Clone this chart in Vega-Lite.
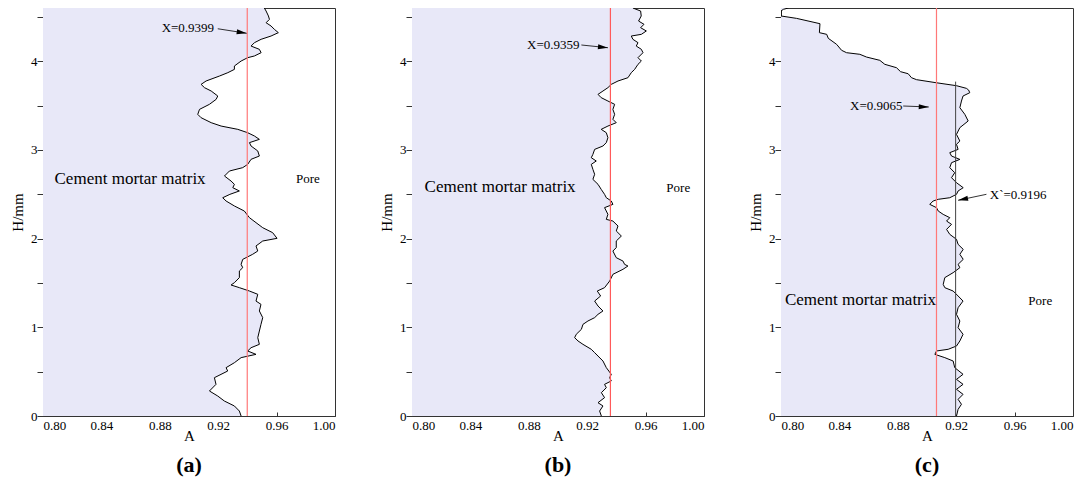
{
  "$schema": "https://vega.github.io/schema/vega-lite/v6.json",
  "padding": {"left": 10, "top": 6, "right": 0, "bottom": 0},
  "autosize": {"type": "pad"},
  "background": "white",
  "spacing": 77,
  "bounds": "flush",
  "config": {
    "font": "Times New Roman, Liberation Serif, DejaVu Serif, serif",
    "view": {"stroke": "#333333", "strokeWidth": 1},
    "text": {"font": "Times New Roman, Liberation Serif, DejaVu Serif, serif"},
    "axis": {"grid": false, "domainColor": "#333333", "tickColor": "#333333", "labelColor": "black", "titleColor": "black", "labelFont": "Times New Roman, Liberation Serif, DejaVu Serif, serif", "titleFont": "Times New Roman, Liberation Serif, DejaVu Serif, serif", "labelFontSize": 13, "titleFontSize": 15, "titleFontWeight": "normal"},
    "axisX": {"tickSize": -4, "labelPadding": 7, "titlePadding": -4},
    "axisY": {"tickSize": 6, "labelPadding": 0, "titlePadding": 5},
    "title": {"font": "Times New Roman, Liberation Serif, DejaVu Serif, serif", "fontSize": 22, "fontWeight": "bold", "orient": "bottom", "offset": 12, "color": "black"}
  },
  "datasets": {
    "a": [
      {"H": 4.6, "A": 0.9516}, {"H": 4.566, "A": 0.9528}, {"H": 4.51, "A": 0.9544}, {"H": 4.472, "A": 0.9551}, {"H": 4.434, "A": 0.9528}, {"H": 4.397, "A": 0.9562}, {"H": 4.359, "A": 0.9585}, {"H": 4.322, "A": 0.9612}, {"H": 4.284, "A": 0.9562}, {"H": 4.247, "A": 0.9494}, {"H": 4.209, "A": 0.9448}, {"H": 4.171, "A": 0.9425}, {"H": 4.134, "A": 0.9482}, {"H": 4.096, "A": 0.9494}, {"H": 4.059, "A": 0.9448}, {"H": 4.04, "A": 0.9402}, {"H": 4.002, "A": 0.9357}, {"H": 3.946, "A": 0.9311}, {"H": 3.908, "A": 0.9311}, {"H": 3.871, "A": 0.9266}, {"H": 3.833, "A": 0.9209}, {"H": 3.777, "A": 0.9117}, {"H": 3.739, "A": 0.9083}, {"H": 3.702, "A": 0.9106}, {"H": 3.664, "A": 0.9152}, {"H": 3.608, "A": 0.9197}, {"H": 3.57, "A": 0.9186}, {"H": 3.514, "A": 0.914}, {"H": 3.457, "A": 0.9072}, {"H": 3.401, "A": 0.906}, {"H": 3.363, "A": 0.9083}, {"H": 3.307, "A": 0.9152}, {"H": 3.269, "A": 0.922}, {"H": 3.232, "A": 0.9334}, {"H": 3.194, "A": 0.9402}, {"H": 3.157, "A": 0.9448}, {"H": 3.119, "A": 0.9482}, {"H": 3.082, "A": 0.9414}, {"H": 3.044, "A": 0.9425}, {"H": 2.988, "A": 0.9471}, {"H": 2.931, "A": 0.9482}, {"H": 2.894, "A": 0.9425}, {"H": 2.837, "A": 0.9402}, {"H": 2.8, "A": 0.9368}, {"H": 2.762, "A": 0.9277}, {"H": 2.706, "A": 0.9243}, {"H": 2.649, "A": 0.9288}, {"H": 2.612, "A": 0.9311}, {"H": 2.574, "A": 0.93}, {"H": 2.537, "A": 0.9345}, {"H": 2.499, "A": 0.928}, {"H": 2.461, "A": 0.9231}, {"H": 2.424, "A": 0.9254}, {"H": 2.368, "A": 0.9311}, {"H": 2.311, "A": 0.9379}, {"H": 2.236, "A": 0.9414}, {"H": 2.18, "A": 0.9459}, {"H": 2.123, "A": 0.9505}, {"H": 2.067, "A": 0.9573}, {"H": 2.003, "A": 0.9603}, {"H": 1.973, "A": 0.9505}, {"H": 1.917, "A": 0.9459}, {"H": 1.86, "A": 0.9471}, {"H": 1.823, "A": 0.9436}, {"H": 1.766, "A": 0.9368}, {"H": 1.71, "A": 0.9357}, {"H": 1.672, "A": 0.9368}, {"H": 1.635, "A": 0.9345}, {"H": 1.56, "A": 0.9345}, {"H": 1.503, "A": 0.9311}, {"H": 1.477, "A": 0.9288}, {"H": 1.447, "A": 0.9345}, {"H": 1.409, "A": 0.9414}, {"H": 1.372, "A": 0.9471}, {"H": 1.296, "A": 0.9459}, {"H": 1.259, "A": 0.9493}, {"H": 1.184, "A": 0.9482}, {"H": 1.109, "A": 0.9505}, {"H": 1.033, "A": 0.9493}, {"H": 0.958, "A": 0.9482}, {"H": 0.883, "A": 0.9471}, {"H": 0.808, "A": 0.9482}, {"H": 0.77, "A": 0.9425}, {"H": 0.733, "A": 0.9402}, {"H": 0.695, "A": 0.9459}, {"H": 0.658, "A": 0.9357}, {"H": 0.601, "A": 0.9311}, {"H": 0.545, "A": 0.9254}, {"H": 0.507, "A": 0.9265}, {"H": 0.432, "A": 0.9174}, {"H": 0.357, "A": 0.9185}, {"H": 0.282, "A": 0.914}, {"H": 0.225, "A": 0.9197}, {"H": 0.169, "A": 0.9242}, {"H": 0.113, "A": 0.9311}, {"H": 0.056, "A": 0.9345}, {"H": 0.0, "A": 0.9357}
    ],
    "b": [
      {"H": 4.6, "A": 0.9513}, {"H": 4.566, "A": 0.9566}, {"H": 4.51, "A": 0.957}, {"H": 4.453, "A": 0.9552}, {"H": 4.416, "A": 0.9589}, {"H": 4.378, "A": 0.9566}, {"H": 4.341, "A": 0.9605}, {"H": 4.303, "A": 0.9571}, {"H": 4.284, "A": 0.9502}, {"H": 4.247, "A": 0.9513}, {"H": 4.209, "A": 0.9548}, {"H": 4.171, "A": 0.9536}, {"H": 4.134, "A": 0.9571}, {"H": 4.096, "A": 0.9582}, {"H": 4.04, "A": 0.9548}, {"H": 4.002, "A": 0.9571}, {"H": 3.965, "A": 0.9548}, {"H": 3.908, "A": 0.9525}, {"H": 3.871, "A": 0.9502}, {"H": 3.814, "A": 0.9479}, {"H": 3.777, "A": 0.9411}, {"H": 3.739, "A": 0.9365}, {"H": 3.702, "A": 0.9342}, {"H": 3.664, "A": 0.9308}, {"H": 3.626, "A": 0.9274}, {"H": 3.589, "A": 0.9296}, {"H": 3.551, "A": 0.9342}, {"H": 3.514, "A": 0.9388}, {"H": 3.457, "A": 0.9376}, {"H": 3.401, "A": 0.9388}, {"H": 3.345, "A": 0.9376}, {"H": 3.307, "A": 0.9399}, {"H": 3.269, "A": 0.9342}, {"H": 3.232, "A": 0.9296}, {"H": 3.194, "A": 0.9331}, {"H": 3.138, "A": 0.9342}, {"H": 3.082, "A": 0.9331}, {"H": 3.044, "A": 0.9308}, {"H": 3.006, "A": 0.9251}, {"H": 2.95, "A": 0.9239}, {"H": 2.912, "A": 0.9228}, {"H": 2.875, "A": 0.9262}, {"H": 2.837, "A": 0.9228}, {"H": 2.781, "A": 0.9239}, {"H": 2.725, "A": 0.9251}, {"H": 2.668, "A": 0.9239}, {"H": 2.612, "A": 0.9274}, {"H": 2.555, "A": 0.9296}, {"H": 2.499, "A": 0.9319}, {"H": 2.461, "A": 0.9331}, {"H": 2.424, "A": 0.9365}, {"H": 2.386, "A": 0.9376}, {"H": 2.349, "A": 0.9319}, {"H": 2.274, "A": 0.9342}, {"H": 2.217, "A": 0.9331}, {"H": 2.198, "A": 0.9376}, {"H": 2.142, "A": 0.9411}, {"H": 2.086, "A": 0.9399}, {"H": 2.029, "A": 0.9434}, {"H": 1.973, "A": 0.9399}, {"H": 1.898, "A": 0.9399}, {"H": 1.86, "A": 0.9376}, {"H": 1.785, "A": 0.9399}, {"H": 1.747, "A": 0.9445}, {"H": 1.71, "A": 0.9456}, {"H": 1.691, "A": 0.9479}, {"H": 1.654, "A": 0.9445}, {"H": 1.597, "A": 0.9376}, {"H": 1.522, "A": 0.9354}, {"H": 1.447, "A": 0.9319}, {"H": 1.409, "A": 0.9269}, {"H": 1.353, "A": 0.9292}, {"H": 1.296, "A": 0.9251}, {"H": 1.24, "A": 0.9274}, {"H": 1.184, "A": 0.9308}, {"H": 1.146, "A": 0.9274}, {"H": 1.109, "A": 0.9251}, {"H": 1.071, "A": 0.9205}, {"H": 1.033, "A": 0.9171}, {"H": 0.977, "A": 0.916}, {"H": 0.921, "A": 0.9125}, {"H": 0.883, "A": 0.9114}, {"H": 0.846, "A": 0.9137}, {"H": 0.808, "A": 0.9171}, {"H": 0.752, "A": 0.9228}, {"H": 0.714, "A": 0.9251}, {"H": 0.676, "A": 0.9274}, {"H": 0.62, "A": 0.9308}, {"H": 0.545, "A": 0.9331}, {"H": 0.47, "A": 0.9365}, {"H": 0.432, "A": 0.9354}, {"H": 0.395, "A": 0.9365}, {"H": 0.357, "A": 0.9319}, {"H": 0.319, "A": 0.9331}, {"H": 0.263, "A": 0.9297}, {"H": 0.207, "A": 0.9319}, {"H": 0.15, "A": 0.9274}, {"H": 0.113, "A": 0.9308}, {"H": 0.056, "A": 0.9285}, {"H": 0.0, "A": 0.9297}
    ],
    "c": [
      {"H": 4.6, "A": 0.8051}, {"H": 4.585, "A": 0.8016}, {"H": 4.566, "A": 0.8}, {"H": 4.51, "A": 0.8}, {"H": 4.483, "A": 0.8107}, {"H": 4.423, "A": 0.8267}, {"H": 4.322, "A": 0.8263}, {"H": 4.303, "A": 0.8313}, {"H": 4.258, "A": 0.8324}, {"H": 4.19, "A": 0.8381}, {"H": 4.123, "A": 0.8415}, {"H": 4.096, "A": 0.8449}, {"H": 4.078, "A": 0.854}, {"H": 4.047, "A": 0.8586}, {"H": 4.01, "A": 0.8677}, {"H": 3.965, "A": 0.8711}, {"H": 3.927, "A": 0.8791}, {"H": 3.882, "A": 0.8819}, {"H": 3.859, "A": 0.8871}, {"H": 3.814, "A": 0.8894}, {"H": 3.792, "A": 0.8928}, {"H": 3.757, "A": 0.9065}, {"H": 3.724, "A": 0.9202}, {"H": 3.694, "A": 0.927}, {"H": 3.675, "A": 0.9285}, {"H": 3.645, "A": 0.9293}, {"H": 3.608, "A": 0.9247}, {"H": 3.551, "A": 0.9236}, {"H": 3.476, "A": 0.9225}, {"H": 3.401, "A": 0.9259}, {"H": 3.326, "A": 0.9282}, {"H": 3.251, "A": 0.9225}, {"H": 3.175, "A": 0.9202}, {"H": 3.1, "A": 0.9225}, {"H": 3.063, "A": 0.9202}, {"H": 3.006, "A": 0.9213}, {"H": 2.969, "A": 0.9156}, {"H": 2.931, "A": 0.9168}, {"H": 2.893, "A": 0.9225}, {"H": 2.856, "A": 0.9168}, {"H": 2.8, "A": 0.9156}, {"H": 2.743, "A": 0.919}, {"H": 2.687, "A": 0.9168}, {"H": 2.63, "A": 0.9202}, {"H": 2.574, "A": 0.9248}, {"H": 2.537, "A": 0.9213}, {"H": 2.499, "A": 0.9202}, {"H": 2.461, "A": 0.9156}, {"H": 2.443, "A": 0.9077}, {"H": 2.424, "A": 0.9042}, {"H": 2.386, "A": 0.9019}, {"H": 2.349, "A": 0.9065}, {"H": 2.311, "A": 0.9077}, {"H": 2.273, "A": 0.9111}, {"H": 2.236, "A": 0.9156}, {"H": 2.198, "A": 0.9134}, {"H": 2.161, "A": 0.9168}, {"H": 2.104, "A": 0.9134}, {"H": 2.048, "A": 0.9156}, {"H": 1.992, "A": 0.9202}, {"H": 1.935, "A": 0.9213}, {"H": 1.879, "A": 0.9248}, {"H": 1.823, "A": 0.9225}, {"H": 1.766, "A": 0.9248}, {"H": 1.71, "A": 0.9213}, {"H": 1.672, "A": 0.9225}, {"H": 1.616, "A": 0.9179}, {"H": 1.56, "A": 0.9122}, {"H": 1.484, "A": 0.9111}, {"H": 1.447, "A": 0.9122}, {"H": 1.409, "A": 0.9179}, {"H": 1.353, "A": 0.9213}, {"H": 1.296, "A": 0.9247}, {"H": 1.221, "A": 0.9213}, {"H": 1.146, "A": 0.9202}, {"H": 1.071, "A": 0.9225}, {"H": 0.996, "A": 0.9213}, {"H": 0.921, "A": 0.9247}, {"H": 0.846, "A": 0.9225}, {"H": 0.789, "A": 0.9202}, {"H": 0.752, "A": 0.9145}, {"H": 0.733, "A": 0.9065}, {"H": 0.695, "A": 0.9054}, {"H": 0.658, "A": 0.9122}, {"H": 0.62, "A": 0.9179}, {"H": 0.545, "A": 0.919}, {"H": 0.47, "A": 0.9247}, {"H": 0.413, "A": 0.9202}, {"H": 0.357, "A": 0.9247}, {"H": 0.301, "A": 0.9202}, {"H": 0.244, "A": 0.9247}, {"H": 0.188, "A": 0.9213}, {"H": 0.132, "A": 0.9236}, {"H": 0.075, "A": 0.9213}, {"H": 0.0, "A": 0.9202}
    ],
    "a_x": [{"X": 0.9399}],
    "b_x": [{"X": 0.9359}],
    "c_x": [{"X": 0.9065}],
    "c_x2": [{"X": 0.9196, "H0": 0, "H1": 3.77}],
    "a_arrow": [{"x1": 0.9197, "h1": 4.366, "x2": 0.9395, "h2": 4.315}],
    "b_arrow": [{"x1": 0.916, "h1": 4.183, "x2": 0.9342, "h2": 4.152}],
    "c_arrow1": [{"x1": 0.8837, "h1": 3.495, "x2": 0.9012, "h2": 3.484}],
    "c_arrow2": [{"x1": 0.9407, "h1": 2.4995, "x2": 0.9213, "h2": 2.432}],
    "a_text": [
      {"kind": "value", "A": 0.9172, "H": 4.374, "label": "X=0.9399"},
      {"kind": "matrix", "A": 0.8079, "H": 2.675, "label": "Cement mortar matrix"},
      {"kind": "pore", "A": 0.9733, "H": 2.669, "label": "Pore"}
    ],
    "b_text": [
      {"kind": "value", "A": 0.9148, "H": 4.183, "label": "X=0.9359"},
      {"kind": "matrix", "A": 0.8086, "H": 2.582, "label": "Cement mortar matrix"},
      {"kind": "pore", "A": 0.9742, "H": 2.567, "label": "Pore"}
    ],
    "c_text": [
      {"kind": "value", "A": 0.8832, "H": 3.495, "label": "X=0.9065"},
      {"kind": "pore", "A": 0.943, "H": 2.49, "label": "X`=0.9196"},
      {"kind": "matrix", "A": 0.8027, "H": 1.308, "label": "Cement mortar matrix"},
      {"kind": "pore", "A": 0.9694, "H": 1.297, "label": "Pore"}
    ]
  },
  "hconcat": [
    {
      "width": 292, "height": 408,
      "title": {"text": "(a)"},
      "layer": [
        {"data": {"name": "a"}, "mark": {"type": "area", "orient": "horizontal", "color": "#e8e8f8", "clip": true},
         "encoding": {
           "y": {"field": "H", "type": "quantitative", "scale": {"domain": [0, 4.6], "nice": false}, "axis": {"title": "H/mm", "values": [0, 0.5, 1, 1.5, 2, 2.5, 3, 3.5, 4, 4.5], "labelExpr": "datum.value % 1 == 0 ? format(datum.value, 'd') : ''"}},
           "x": {"field": "A", "type": "quantitative", "scale": {"domain": [0.8, 1.0], "nice": false, "zero": false}, "axis": {"title": "A", "values": [0.8, 0.82, 0.84, 0.86, 0.88, 0.9, 0.92, 0.94, 0.96, 0.98, 1.0], "labelExpr": "round(datum.value * 100) % 4 == 0 ? format(datum.value, '.2f') : ''"}},
           "x2": {"datum": 0.8}
         }},
        {"data": {"name": "a"}, "mark": {"type": "line", "orient": "horizontal", "color": "black", "strokeWidth": 1, "clip": true},
         "encoding": {"y": {"field": "H", "type": "quantitative"}, "x": {"field": "A", "type": "quantitative"}, "order": {"field": "H", "type": "quantitative"}}},
        {"data": {"name": "a_x"}, "mark": {"type": "rule", "color": "#ff7878", "strokeWidth": 1.2},
         "encoding": {"x": {"field": "X", "type": "quantitative"}}},
        {"data": {"name": "a_arrow"}, "mark": {"type": "rule", "color": "black", "strokeWidth": 0.8},
         "encoding": {"x": {"field": "x1", "type": "quantitative"}, "y": {"field": "h1", "type": "quantitative"}, "x2": {"field": "x2"}, "y2": {"field": "h2"}}},
        {"data": {"name": "a_arrow"}, "mark": {"type": "point", "shape": "M-2,-0.5L0,0L-2,0.5Z", "size": 100, "filled": true, "color": "black", "opacity": 1, "angle": 9},
         "encoding": {"x": {"field": "x2", "type": "quantitative"}, "y": {"field": "h2", "type": "quantitative"}}},
        {"data": {"name": "a_text"}, "transform": [{"filter": "datum.kind == 'value'"}], "mark": {"type": "text", "align": "right", "baseline": "middle", "fontSize": 13, "color": "black"},
         "encoding": {"x": {"field": "A", "type": "quantitative"}, "y": {"field": "H", "type": "quantitative"}, "text": {"field": "label"}}},
        {"data": {"name": "a_text"}, "transform": [{"filter": "datum.kind == 'matrix'"}], "mark": {"type": "text", "align": "left", "baseline": "middle", "fontSize": 17, "color": "black"},
         "encoding": {"x": {"field": "A", "type": "quantitative"}, "y": {"field": "H", "type": "quantitative"}, "text": {"field": "label"}}},
        {"data": {"name": "a_text"}, "transform": [{"filter": "datum.kind == 'pore'"}], "mark": {"type": "text", "align": "left", "baseline": "middle", "fontSize": 13, "color": "black"},
         "encoding": {"x": {"field": "A", "type": "quantitative"}, "y": {"field": "H", "type": "quantitative"}, "text": {"field": "label"}}}
      ]
    },
    {
      "width": 292, "height": 408,
      "title": {"text": "(b)"},
      "layer": [
        {"data": {"name": "b"}, "mark": {"type": "area", "orient": "horizontal", "color": "#e8e8f8", "clip": true},
         "encoding": {
           "y": {"field": "H", "type": "quantitative", "scale": {"domain": [0, 4.6], "nice": false}, "axis": {"title": "H/mm", "values": [0, 0.5, 1, 1.5, 2, 2.5, 3, 3.5, 4, 4.5], "labelExpr": "datum.value % 1 == 0 ? format(datum.value, 'd') : ''"}},
           "x": {"field": "A", "type": "quantitative", "scale": {"domain": [0.8, 1.0], "nice": false, "zero": false}, "axis": {"title": "A", "values": [0.8, 0.82, 0.84, 0.86, 0.88, 0.9, 0.92, 0.94, 0.96, 0.98, 1.0], "labelExpr": "round(datum.value * 100) % 4 == 0 ? format(datum.value, '.2f') : ''"}},
           "x2": {"datum": 0.8}
         }},
        {"data": {"name": "b"}, "mark": {"type": "line", "orient": "horizontal", "color": "black", "strokeWidth": 1, "clip": true},
         "encoding": {"y": {"field": "H", "type": "quantitative"}, "x": {"field": "A", "type": "quantitative"}, "order": {"field": "H", "type": "quantitative"}}},
        {"data": {"name": "b_x"}, "mark": {"type": "rule", "color": "#ff5a5a", "strokeWidth": 1.2},
         "encoding": {"x": {"field": "X", "type": "quantitative"}}},
        {"data": {"name": "b_arrow"}, "mark": {"type": "rule", "color": "black", "strokeWidth": 0.8},
         "encoding": {"x": {"field": "x1", "type": "quantitative"}, "y": {"field": "h1", "type": "quantitative"}, "x2": {"field": "x2"}, "y2": {"field": "h2"}}},
        {"data": {"name": "b_arrow"}, "mark": {"type": "point", "shape": "M-2,-0.5L0,0L-2,0.5Z", "size": 100, "filled": true, "color": "black", "opacity": 1, "angle": 6},
         "encoding": {"x": {"field": "x2", "type": "quantitative"}, "y": {"field": "h2", "type": "quantitative"}}},
        {"data": {"name": "b_text"}, "transform": [{"filter": "datum.kind == 'value'"}], "mark": {"type": "text", "align": "right", "baseline": "middle", "fontSize": 13, "color": "black"},
         "encoding": {"x": {"field": "A", "type": "quantitative"}, "y": {"field": "H", "type": "quantitative"}, "text": {"field": "label"}}},
        {"data": {"name": "b_text"}, "transform": [{"filter": "datum.kind == 'matrix'"}], "mark": {"type": "text", "align": "left", "baseline": "middle", "fontSize": 17, "color": "black"},
         "encoding": {"x": {"field": "A", "type": "quantitative"}, "y": {"field": "H", "type": "quantitative"}, "text": {"field": "label"}}},
        {"data": {"name": "b_text"}, "transform": [{"filter": "datum.kind == 'pore'"}], "mark": {"type": "text", "align": "left", "baseline": "middle", "fontSize": 13, "color": "black"},
         "encoding": {"x": {"field": "A", "type": "quantitative"}, "y": {"field": "H", "type": "quantitative"}, "text": {"field": "label"}}}
      ]
    },
    {
      "width": 292, "height": 408,
      "title": {"text": "(c)"},
      "layer": [
        {"data": {"name": "c"}, "mark": {"type": "area", "orient": "horizontal", "color": "#e8e8f8", "clip": true},
         "encoding": {
           "y": {"field": "H", "type": "quantitative", "scale": {"domain": [0, 4.6], "nice": false}, "axis": {"title": "H/mm", "values": [0, 0.5, 1, 1.5, 2, 2.5, 3, 3.5, 4, 4.5], "labelExpr": "datum.value % 1 == 0 ? format(datum.value, 'd') : ''"}},
           "x": {"field": "A", "type": "quantitative", "scale": {"domain": [0.8, 1.0], "nice": false, "zero": false}, "axis": {"title": "A", "values": [0.8, 0.82, 0.84, 0.86, 0.88, 0.9, 0.92, 0.94, 0.96, 0.98, 1.0], "labelExpr": "round(datum.value * 100) % 4 == 0 ? format(datum.value, '.2f') : ''"}},
           "x2": {"datum": 0.8}
         }},
        {"data": {"name": "c"}, "mark": {"type": "line", "orient": "horizontal", "color": "black", "strokeWidth": 1, "clip": true},
         "encoding": {"y": {"field": "H", "type": "quantitative"}, "x": {"field": "A", "type": "quantitative"}, "order": {"field": "H", "type": "quantitative"}}},
        {"data": {"name": "c_x"}, "mark": {"type": "rule", "color": "#ff7878", "strokeWidth": 1.2},
         "encoding": {"x": {"field": "X", "type": "quantitative"}}},
        {"data": {"name": "c_x2"}, "mark": {"type": "rule", "color": "#444444", "strokeWidth": 1},
         "encoding": {"x": {"field": "X", "type": "quantitative"}, "y": {"field": "H0", "type": "quantitative"}, "y2": {"field": "H1"}}},
        {"data": {"name": "c_arrow1"}, "mark": {"type": "rule", "color": "black", "strokeWidth": 0.8},
         "encoding": {"x": {"field": "x1", "type": "quantitative"}, "y": {"field": "h1", "type": "quantitative"}, "x2": {"field": "x2"}, "y2": {"field": "h2"}}},
        {"data": {"name": "c_arrow1"}, "mark": {"type": "point", "shape": "M-2,-0.5L0,0L-2,0.5Z", "size": 100, "filled": true, "color": "black", "opacity": 1, "angle": 2},
         "encoding": {"x": {"field": "x2", "type": "quantitative"}, "y": {"field": "h2", "type": "quantitative"}}},
        {"data": {"name": "c_arrow2"}, "mark": {"type": "rule", "color": "black", "strokeWidth": 0.8},
         "encoding": {"x": {"field": "x1", "type": "quantitative"}, "y": {"field": "h1", "type": "quantitative"}, "x2": {"field": "x2"}, "y2": {"field": "h2"}}},
        {"data": {"name": "c_arrow2"}, "mark": {"type": "point", "shape": "M-2,-0.5L0,0L-2,0.5Z", "size": 100, "filled": true, "color": "black", "opacity": 1, "angle": 168},
         "encoding": {"x": {"field": "x2", "type": "quantitative"}, "y": {"field": "h2", "type": "quantitative"}}},
        {"data": {"name": "c_text"}, "transform": [{"filter": "datum.kind == 'value'"}], "mark": {"type": "text", "align": "right", "baseline": "middle", "fontSize": 13, "color": "black"},
         "encoding": {"x": {"field": "A", "type": "quantitative"}, "y": {"field": "H", "type": "quantitative"}, "text": {"field": "label"}}},
        {"data": {"name": "c_text"}, "transform": [{"filter": "datum.kind == 'matrix'"}], "mark": {"type": "text", "align": "left", "baseline": "middle", "fontSize": 17, "color": "black"},
         "encoding": {"x": {"field": "A", "type": "quantitative"}, "y": {"field": "H", "type": "quantitative"}, "text": {"field": "label"}}},
        {"data": {"name": "c_text"}, "transform": [{"filter": "datum.kind == 'pore'"}], "mark": {"type": "text", "align": "left", "baseline": "middle", "fontSize": 13, "color": "black"},
         "encoding": {"x": {"field": "A", "type": "quantitative"}, "y": {"field": "H", "type": "quantitative"}, "text": {"field": "label"}}}
      ]
    }
  ]
}
